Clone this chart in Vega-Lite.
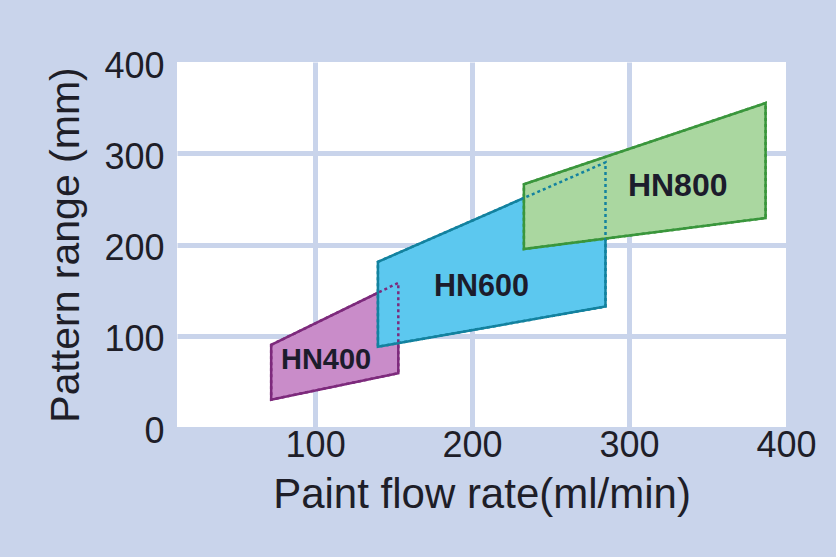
{
  "$schema": "https://vega.github.io/schema/vega-lite/v6.json",
  "width": 609,
  "height": 365,
  "autosize": {"type": "none"},
  "padding": {"left": 177, "top": 62, "right": 50, "bottom": 130},
  "background": "#c9d4eb",
  "view": {"fill": "white", "stroke": null},
  "config": {"font": "Liberation Sans"},
  "datasets": {
    "shapes": [
      {"model": "HN400", "flow": 72, "top": 90, "bottom": 30},
      {"model": "HN400", "flow": 153, "top": 158, "bottom": 59},
      {"model": "HN600", "flow": 140, "top": 181, "bottom": 88},
      {"model": "HN600", "flow": 285, "top": 290, "bottom": 132},
      {"model": "HN800", "flow": 233, "top": 266, "bottom": 195},
      {"model": "HN800", "flow": 387, "top": 355, "bottom": 229}
    ],
    "labels": [
      {"model": "HN400", "flow": 107, "range": 73},
      {"model": "HN600", "flow": 206, "range": 153},
      {"model": "HN800", "flow": 331, "range": 264}
    ]
  },
  "layer": [
    {
      "data": {"name": "shapes"},
      "mark": {"type": "area", "strokeWidth": 2.5, "fillOpacity": 1, "orient": "vertical"},
      "encoding": {
        "x": {
          "field": "flow", "type": "quantitative",
          "scale": {"domain": [12, 400], "nice": false, "zero": false},
          "axis": {
            "title": "Paint flow rate(ml/min)",
            "values": [100, 200, 300, 400],
            "ticks": false, "domain": false,
            "labelFlush": false, "labelOverlap": false,
            "labelFontSize": 36, "labelPadding": 1, "labelColor": "#1e1e28",
            "titleFontSize": 42, "titleFontWeight": "normal", "titleColor": "#1e1e28", "titlePadding": 11,
            "gridColor": "#c9d4eb", "gridWidth": 5,
            "gridOpacity": {"condition": {"test": "datum.value >= 400", "value": 0}, "value": 1}
          }
        },
        "y": {
          "field": "top", "type": "quantitative",
          "scale": {"domain": [0, 400], "nice": false},
          "axis": {
            "title": "Pattern range (mm)",
            "values": [0, 100, 200, 300, 400],
            "ticks": false, "domain": false,
            "labelFlush": false, "labelOverlap": false,
            "labelFontSize": 36, "labelPadding": 13, "labelOffset": 4, "labelColor": "#1e1e28",
            "titleFontSize": 41, "titleFontWeight": "normal", "titleColor": "#1e1e28", "titlePadding": 16,
            "gridColor": "#c9d4eb", "gridWidth": 5,
            "gridOpacity": {"condition": {"test": "datum.value <= 0 || datum.value >= 400", "value": 0}, "value": 1}
          }
        },
        "y2": {"field": "bottom"},
        "fill": {
          "field": "model", "type": "nominal",
          "scale": {"domain": ["HN400", "HN600", "HN800"], "range": ["#c98cc9", "#5cc8ef", "#aad7a0"]},
          "legend": null
        },
        "stroke": {
          "field": "model", "type": "nominal",
          "scale": {"domain": ["HN400", "HN600", "HN800"], "range": ["#7d2a7c", "#13829f", "#3a963c"]},
          "legend": null
        }
      }
    },
    {
      "data": {"name": "shapes"},
      "mark": {"type": "area", "strokeWidth": 2.5, "fillOpacity": 0, "strokeDash": [3, 3], "orient": "vertical"},
      "encoding": {
        "x": {"field": "flow", "type": "quantitative"},
        "y": {"field": "top", "type": "quantitative"},
        "y2": {"field": "bottom"},
        "stroke": {"field": "model", "type": "nominal", "legend": null}
      }
    },
    {
      "data": {"name": "labels"},
      "mark": {"type": "text", "fontWeight": "bold", "color": "#1c1c2c"},
      "encoding": {
        "x": {"field": "flow", "type": "quantitative"},
        "y": {"field": "range", "type": "quantitative"},
        "text": {"field": "model"},
        "size": {
          "field": "model", "type": "nominal",
          "scale": {"domain": ["HN400", "HN600", "HN800"], "range": [29, 32, 32]},
          "legend": null
        }
      }
    }
  ]
}
